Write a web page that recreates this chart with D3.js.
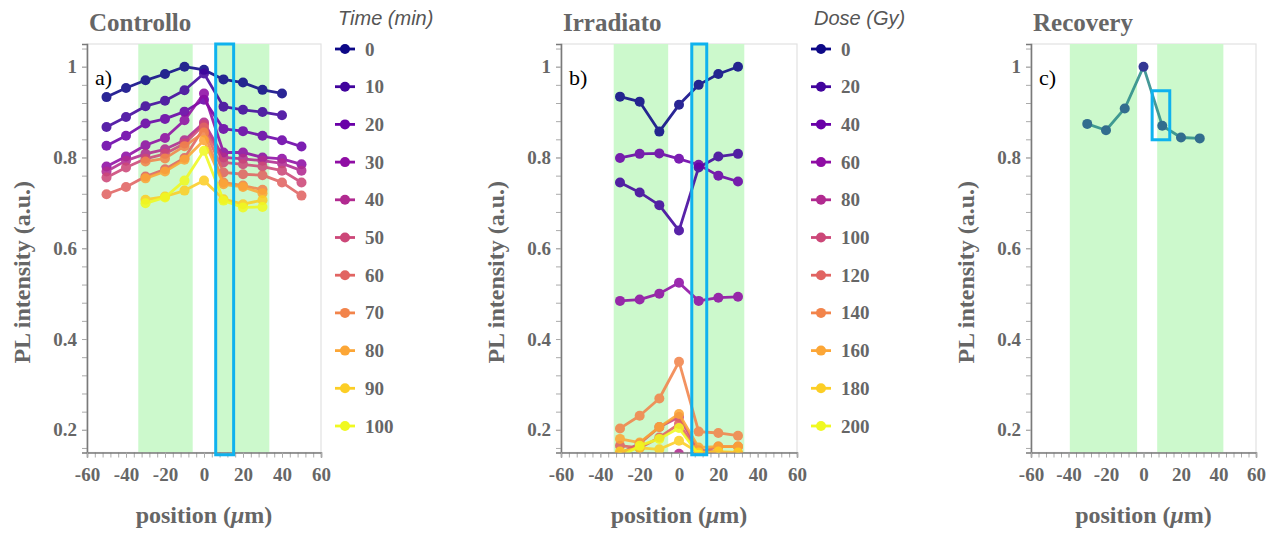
<!DOCTYPE html>
<html>
<head>
<meta charset="utf-8">
<script src="https://cdn.jsdelivr.net/npm/d3@7"></script>
<style>
  html, body { margin: 0; padding: 0; background: #fff; }
  svg { display: block; }
</style>
</head>
<body>
<svg id="chart" width="1272" height="535"></svg>
<script>
// ---------- data ----------
// Controllo: PL intensity vs position, one series per time step (min)
const ctrlPositions = [-50, -40, -30, -20, -10, 0, 10, 20, 30, 40, 50];
const timeLabels = ["0", "10", "20", "30", "40", "50", "60", "70", "80", "90", "100"];
const ctrl0   = [0.933, 0.953, 0.970, 0.984, 1.000, 0.993, 0.972, 0.965, 0.949, 0.941, null];
const ctrl10  = [0.867, 0.889, 0.913, 0.925, 0.948, 0.985, 0.912, 0.905, 0.900, 0.893, null];
const ctrl20  = [0.826, 0.848, 0.875, 0.885, 0.901, 0.927, 0.863, 0.858, 0.848, 0.838, 0.824];
const ctrl30  = [0.780, 0.802, 0.827, 0.843, 0.882, 0.941, 0.811, 0.811, 0.800, 0.797, 0.785];
const ctrl40  = [0.769, 0.793, 0.808, 0.818, 0.838, 0.877, 0.800, 0.797, 0.793, 0.787, 0.771];
const ctrl50  = [0.756, 0.778, 0.797, 0.808, 0.831, 0.872, 0.789, 0.785, 0.780, 0.771, 0.745];
const ctrl60  = [0.719, 0.735, 0.758, 0.774, 0.799, 0.866, 0.767, 0.763, 0.761, 0.745, 0.716];
const ctrl70  = [null, null, 0.791, 0.798, 0.825, 0.855, 0.745, 0.738, 0.729, null, null];
const ctrl80  = [null, null, 0.754, 0.769, 0.795, 0.838, 0.741, 0.735, 0.721, null, null];
const ctrl90  = [null, null, 0.707, 0.714, 0.727, 0.749, 0.708, 0.697, 0.706, null, null];
const ctrl100 = [null, null, 0.699, 0.712, 0.749, 0.815, 0.705, 0.690, 0.691, null, null];
const ctrlSeries = [ctrl0, ctrl10, ctrl20, ctrl30, ctrl40, ctrl50, ctrl60, ctrl70, ctrl80, ctrl90, ctrl100];

// Irradiato: one series per dose (Gy)
const irrPositions = [-30, -20, -10, 0, 10, 20, 30];
const doseLabels = ["0", "20", "40", "60", "80", "100", "120", "140", "160", "180", "200"];
const irr0   = [0.934, 0.923, 0.857, 0.916, 0.960, 0.984, 1.000];
const irr20  = [0.745, 0.723, 0.695, 0.639, 0.778, 0.802, 0.808];
const irr40  = [0.799, 0.808, 0.809, 0.797, 0.784, 0.760, 0.747];
const irr60  = [0.484, 0.487, 0.500, 0.524, 0.484, 0.491, 0.493];
const irr80  = [0.110, 0.120, 0.130, 0.147, 0.120, 0.110, 0.110];
const irr100 = [0.148, 0.170, 0.206, 0.228, 0.155, 0.150, 0.148];
const irr120 = [0.165, 0.160, 0.183, 0.213, 0.150, 0.163, 0.163];
const irr140 = [0.203, 0.231, 0.269, 0.350, 0.196, 0.193, 0.187];
const irr160 = [0.180, 0.172, 0.206, 0.235, 0.161, 0.163, 0.163];
const irr180 = [0.152, 0.160, 0.157, 0.176, 0.150, 0.152, 0.150];
const irr200 = [0.140, 0.165, 0.180, 0.204, 0.145, 0.140, 0.140];
const irrSeries = [irr0, irr20, irr40, irr60, irr80, irr100, irr120, irr140, irr160, irr180, irr200];

// Recovery: single profile
const recPositions = [-30, -20, -10, 0, 10, 20, 30];
const recovery = [0.874, 0.860, 0.908, 1.000, 0.870, 0.844, 0.842];

// shaded regions and highlighted windows, in data units (position, intensity)
const ctrlBands = [[-33.7, -5.8], [6.5, 33.5]];
const irrBands  = [[-33.2, -5.5], [6.0, 33.2]];
const recBands  = [[-39.3, -3.4], [7.3, 42.6]];
const ctrlBox = [6.0, 15.2, 0.145, 1.05];
const irrBox  = [6.5, 14.1, 0.145, 1.05];
const recBox  = [4.6, 14.0, 0.839, 0.947];

// axis ticks
const xMajor = [-60, -40, -20, 0, 20, 40, 60];
const xMinor = d3.range(-60, 60.001, 4);
const yMajor = [0.2, 0.4, 0.6, 0.8, 1.0];
const yMinor = d3.range(0.16, 1.05, 0.04);

// ---------- styles ----------
const SERIF = '"Liberation Serif", "Times New Roman", serif';
const SANS = '"Liberation Sans", Arial, sans-serif';
const TEXT_GREY = "#666";
const AXIS_GREY = "#7a7a7a";
const FRAME_GREY = "#e2e2e2";
const BAND_FILL = "#ccf9cc";
const BOX_STROKE = "#0fb2ee";
const REC_LINE = "#2c8c8a";
const REC_MARK = "#1d5a86";
const REC_PEAK = "#171c86";
const MARK_R = 5;
const LINE_W = 2.8;

const svg = d3.select("#chart");
const defs = svg.append("defs");
const colorAt = (i, n) => d3.interpolatePlasma(i / (n - 1));

function drawPanel(cfg) {
  const { left, right, top, bottom, id } = cfg;
  const x = d3.scaleLinear().domain([-60, 60]).range([left, right]);
  const y = d3.scaleLinear().domain([0.15, 1.05]).range([bottom, top]);
  const g = svg.append("g");

  defs.append("clipPath").attr("id", "clip-" + id)
    .append("rect").attr("x", left).attr("y", top)
    .attr("width", right - left).attr("height", bottom - top);

  // frame (top/right)
  g.append("rect").attr("x", left).attr("y", top)
    .attr("width", right - left).attr("height", bottom - top)
    .attr("fill", "#fff").attr("stroke", FRAME_GREY).attr("stroke-width", 1.2);

  // green bands
  g.append("g").selectAll("rect").data(cfg.bands).join("rect")
    .attr("x", d => x(d[0])).attr("y", top)
    .attr("width", d => x(d[1]) - x(d[0])).attr("height", bottom - top)
    .attr("fill", BAND_FILL);

  // axes
  const yMinorAxis = g.append("g").attr("transform", `translate(${left},0)`)
    .call(d3.axisLeft(y).tickValues(yMinor).tickSize(5).tickFormat(""));
  const yAxis = g.append("g").attr("transform", `translate(${left},0)`)
    .call(d3.axisLeft(y).tickValues(yMajor).tickSize(5).tickPadding(5)
      .tickFormat(d => d === 1 ? "1" : d.toFixed(1)));
  const xMinorAxis = g.append("g").attr("transform", `translate(0,${bottom})`)
    .call(d3.axisBottom(x).tickValues(xMinor).tickSize(5).tickFormat(""));
  const xAxis = g.append("g").attr("transform", `translate(0,${bottom})`)
    .call(d3.axisBottom(x).tickValues(xMajor).tickSize(5).tickPadding(10)
      .tickFormat(d => String(d)));
  [yMinorAxis, yAxis, xMinorAxis, xAxis].forEach(a => {
    a.selectAll("path.domain").attr("stroke", AXIS_GREY).attr("stroke-width", 1.6);
    a.selectAll(".tick line").attr("stroke", "#aaa").attr("stroke-width", 1);
    a.selectAll("text").attr("fill", TEXT_GREY).attr("font-family", SERIF)
      .attr("font-weight", "bold").attr("font-size", 19);
  });
  xMinorAxis.select("path.domain").remove();
  yMinorAxis.select("path.domain").remove();

  // data layer
  const plot = g.append("g").attr("clip-path", `url(#clip-${id})`);
  const line = d3.line().x(d => x(d[0])).y(d => y(d[1]));
  cfg.series.forEach((vals, i) => {
    const pts = cfg.positions.map((p, k) => [p, vals[k]]).filter(d => d[1] != null);
    const col = cfg.lineColor ? cfg.lineColor : colorAt(i, cfg.series.length);
    const sg = plot.append("g").attr("opacity", 0.88);
    sg.append("path").datum(pts).attr("d", line)
      .attr("fill", "none").attr("stroke", col).attr("stroke-width", LINE_W)
      .attr("stroke-linejoin", "round");
    sg.selectAll("circle").data(pts).join("circle")
      .attr("cx", d => x(d[0])).attr("cy", d => y(d[1])).attr("r", MARK_R)
      .attr("fill", d => cfg.markColor ? cfg.markColor(d) : col);
  });

  // highlighted window
  const b = cfg.box;
  g.append("rect").attr("x", x(b[0])).attr("y", y(b[3]))
    .attr("width", x(b[1]) - x(b[0])).attr("height", y(b[2]) - y(b[3]))
    .attr("fill", "none").attr("stroke", BOX_STROKE).attr("stroke-width", 3);

  // titles
  g.append("text").attr("x", left + 2).attr("y", 31).text(cfg.title)
    .attr("font-family", SERIF).attr("font-weight", "bold").attr("font-size", 25)
    .attr("fill", TEXT_GREY);
  g.append("text").attr("x", left + 8).attr("y", 85).text(cfg.tag)
    .attr("font-family", SERIF).attr("font-size", 22).attr("fill", "#000");
  g.append("text")
    .attr("transform", `translate(${left - 57},${(top + bottom) / 2 + 24}) rotate(-90)`)
    .attr("text-anchor", "middle").text("PL intensity (a.u.)")
    .attr("font-family", SERIF).attr("font-weight", "bold").attr("font-size", 24)
    .attr("fill", TEXT_GREY);
  const xt = g.append("text").attr("x", x(0)).attr("y", 523).attr("text-anchor", "middle")
    .attr("font-family", SERIF).attr("font-weight", "bold").attr("font-size", 24)
    .attr("fill", TEXT_GREY);
  xt.append("tspan").text("position (");
  xt.append("tspan").attr("font-style", "italic").text("\u03bc");
  xt.append("tspan").text("m)");

  // legend
  if (cfg.legend) {
    const L = cfg.legend;
    const lg = svg.append("g");
    lg.append("text").attr("x", L.x - 7).attr("y", 25).text(L.title)
      .attr("font-family", SANS).attr("font-style", "italic").attr("font-size", 20)
      .attr("fill", "#555");
    L.labels.forEach((lab, i) => {
      const yy = 49 + i * 37.7;
      const col = colorAt(i, L.labels.length);
      lg.append("line").attr("x1", L.x - 10).attr("x2", L.x + 10)
        .attr("y1", yy).attr("y2", yy).attr("stroke", col).attr("stroke-width", LINE_W);
      lg.append("circle").attr("cx", L.x).attr("cy", yy).attr("r", MARK_R).attr("fill", col);
      lg.append("text").attr("x", L.x + 20).attr("y", yy + 6.5).text(lab)
        .attr("font-family", SERIF).attr("font-weight", "bold").attr("font-size", 19)
        .attr("fill", TEXT_GREY);
    });
  }
}

drawPanel({
  id: "a", left: 87, right: 321, top: 44, bottom: 452.5,
  title: "Controllo", tag: "a)", positions: ctrlPositions, series: ctrlSeries,
  bands: ctrlBands, box: ctrlBox,
  legend: { x: 345, title: "Time (min)", labels: timeLabels }
});
drawPanel({
  id: "b", left: 561, right: 797, top: 44, bottom: 452.5,
  title: "Irradiato", tag: "b)", positions: irrPositions, series: irrSeries,
  bands: irrBands, box: irrBox,
  legend: { x: 821, title: "Dose (Gy)", labels: doseLabels }
});
drawPanel({
  id: "c", left: 1031, right: 1256, top: 44, bottom: 452.5,
  title: "Recovery", tag: "c)", positions: recPositions, series: [recovery],
  bands: recBands, box: recBox, lineColor: REC_LINE,
  markColor: d => d[1] >= 1 ? REC_PEAK : REC_MARK
});
</script>
</body>
</html>
